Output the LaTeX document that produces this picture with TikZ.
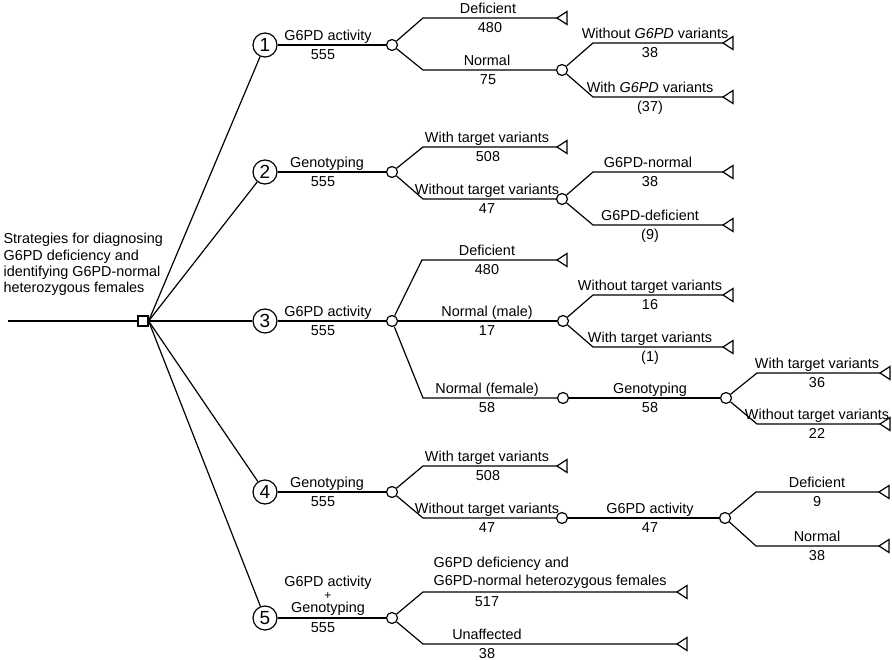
\documentclass[tikz,border=0pt]{standalone}
\usepackage{fontspec}
\setmainfont{Liberation Sans}
\begin{document}
\begin{tikzpicture}[x=1pt,y=-1pt, line width=1.2pt,
  every node/.style={font=\fontsize{14.4}{16.3}\selectfont},
  num/.style={circle, draw, fill=white, minimum size=24pt, inner sep=0pt, font=\fontsize{19}{19}\selectfont},
  chance/.style={circle, draw, fill=white, minimum size=11pt, inner sep=0pt},
  decision/.style={rectangle, draw, fill=white, minimum size=10pt, inner sep=0pt},
  lab/.style={anchor=base, inner sep=0pt},
  labw/.style={anchor=base west, inner sep=0pt},
  leaf/.pic={\draw[fill=white, line width=1.2pt] (0,0) -- (10,-6.5) -- (10,6.5) -- cycle;}
]
\useasboundingbox (0,0) rectangle (892,660);

% root
\coordinate (start) at (8,321);
\node[decision] (S) at (143,321) {};
\draw (start) -- (S);
\node[labw] at (3,244) {Strategies for diagnosing};
\node[labw] at (3,260.3) {G6PD deficiency and};
\node[labw] at (3,276.6) {identifying G6PD-normal};
\node[labw] at (3,292.9) {heterozygous females};

\node[num] (N1) at (265,45) {1};
\node[num] (N2) at (265,172) {2};
\node[num] (N3) at (265,321) {3};
\node[num] (N4) at (265,492) {4};
\node[num] (N5) at (265,618) {5};
\foreach \i in {1,...,5} \draw (S.east) -- (N\i);

% ---------- strategy 1
\node[chance] (A1) at (392,45) {};
\draw (N1) -- (A1);
\node[lab] at (328,40.5) {G6PD activity};
\node[lab] at (323,59.5) {555};
\coordinate (u1) at (423,18); \coordinate (L11) at (557,18);
\draw (A1) -- (u1) -- (L11); \pic at (L11) {leaf};
\node[lab] at (488,13.5) {Deficient};
\node[lab] at (490,32.5) {480};
\coordinate (d1) at (423,70); \node[chance] (B1) at (562,70) {};
\draw (A1) -- (d1) -- (B1);
\node[lab] at (487,65.5) {Normal};
\node[lab] at (488,84.5) {75};
\coordinate (u11) at (593,43); \coordinate (L12) at (723,43);
\draw (B1) -- (u11) -- (L12); \pic at (L12) {leaf};
\node[lab] at (655,38.5) {Without \textit{G6PD} variants};
\node[lab] at (650,57.5) {38};
\coordinate (d11) at (593,97); \coordinate (L13) at (723,97);
\draw (B1) -- (d11) -- (L13); \pic at (L13) {leaf};
\node[lab] at (650,92.5) {With \textit{G6PD} variants};
\node[lab] at (650,111.5) {(37)};

% ---------- strategy 2
\node[chance] (A2) at (392,172) {};
\draw (N2) -- (A2);
\node[lab] at (327,167.5) {Genotyping};
\node[lab] at (323,186.5) {555};
\coordinate (u2) at (423,147); \coordinate (L21) at (557,147);
\draw (A2) -- (u2) -- (L21); \pic at (L21) {leaf};
\node[lab] at (487,142.5) {With target variants};
\node[lab] at (488,161.5) {508};
\coordinate (d2) at (423,199); \node[chance] (B2) at (562,199) {};
\draw (A2) -- (d2) -- (B2);
\node[lab] at (487,194.5) {Without target variants};
\node[lab] at (487,213.5) {47};
\coordinate (u21) at (593,172); \coordinate (L22) at (723,172);
\draw (B2) -- (u21) -- (L22); \pic at (L22) {leaf};
\node[lab] at (648,167.5) {G6PD-normal};
\node[lab] at (650,186.5) {38};
\coordinate (d21) at (593,225); \coordinate (L23) at (723,225);
\draw (B2) -- (d21) -- (L23); \pic at (L23) {leaf};
\node[lab] at (650,220.5) {G6PD-deficient};
\node[lab] at (650,239.5) {(9)};

% ---------- strategy 3
\node[chance] (A3) at (392,321) {};
\draw (N3) -- (A3);
\node[lab] at (328,316.5) {G6PD activity};
\node[lab] at (323,335.5) {555};
\coordinate (u3) at (422,260); \coordinate (L31) at (557,260);
\draw (A3) -- (u3) -- (L31); \pic at (L31) {leaf};
\node[lab] at (487,255.5) {Deficient};
\node[lab] at (487,274.5) {480};
\node[chance] (B3) at (563,321) {};
\draw (A3) -- (B3);
\node[lab] at (487,316.5) {Normal (male)};
\node[lab] at (487,335.5) {17};
\coordinate (d3) at (423,398); \node[chance] (C3) at (563,398) {};
\draw (A3) -- (d3) -- (C3);
\node[lab] at (487,393.5) {Normal (female)};
\node[lab] at (487,412.5) {58};
\coordinate (u31) at (593,295); \coordinate (L32) at (723,295);
\draw (B3) -- (u31) -- (L32); \pic at (L32) {leaf};
\node[lab] at (650,290.5) {Without target variants};
\node[lab] at (650,309.5) {16};
\coordinate (d31) at (593,347); \coordinate (L33) at (723,347);
\draw (B3) -- (d31) -- (L33); \pic at (L33) {leaf};
\node[lab] at (650,342.5) {With target variants};
\node[lab] at (650,361.5) {(1)};
\node[chance] (D3) at (726,398) {};
\draw (C3) -- (D3);
\node[lab] at (650,393.5) {Genotyping};
\node[lab] at (650,412.5) {58};
\coordinate (u32) at (757,373); \coordinate (L34) at (880,373);
\draw (D3) -- (u32) -- (L34); \pic at (L34) {leaf};
\node[lab] at (817,368.5) {With target variants};
\node[lab] at (817,387.5) {36};
\coordinate (d32) at (757,424); \coordinate (L35) at (880,424);
\draw (D3) -- (d32) -- (L35); \pic at (L35) {leaf};
\node[lab] at (817,419.5) {Without target variants};
\node[lab] at (817,438.5) {22};

% ---------- strategy 4
\node[chance] (A4) at (392,492) {};
\draw (N4) -- (A4);
\node[lab] at (327,487.5) {Genotyping};
\node[lab] at (323,506.5) {555};
\coordinate (u4) at (423,466); \coordinate (L41) at (557,466);
\draw (A4) -- (u4) -- (L41); \pic at (L41) {leaf};
\node[lab] at (487,461.5) {With target variants};
\node[lab] at (488,480.5) {508};
\coordinate (d4) at (423,518); \node[chance] (B4) at (562,518) {};
\draw (A4) -- (d4) -- (B4);
\node[lab] at (487,513.5) {Without target variants};
\node[lab] at (487,532.5) {47};
\node[chance] (C4) at (725,518) {};
\draw (B4) -- (C4);
\node[lab] at (650,513.5) {G6PD activity};
\node[lab] at (650,532.5) {47};
\coordinate (u41) at (756,492); \coordinate (L42) at (879,492);
\draw (C4) -- (u41) -- (L42); \pic at (L42) {leaf};
\node[lab] at (817,487.5) {Deficient};
\node[lab] at (817,506.5) {9};
\coordinate (d41) at (756,546); \coordinate (L43) at (879,546);
\draw (C4) -- (d41) -- (L43); \pic at (L43) {leaf};
\node[lab] at (817,541.5) {Normal};
\node[lab] at (817,560.5) {38};

% ---------- strategy 5
\node[chance] (A5) at (392,618) {};
\draw (N5) -- (A5);
\node[lab] at (328,586.5) {G6PD activity};
\node[lab, font=\fontsize{12}{12}\selectfont] at (328,599) {+};
\node[lab] at (328,612.5) {Genotyping};
\node[lab] at (323,632) {555};
\coordinate (u5) at (423,592); \coordinate (L51) at (677,592);
\draw (A5) -- (u5) -- (L51); \pic at (L51) {leaf};
\node[labw] at (433,567) {G6PD deficiency and};
\node[labw] at (433,585) {G6PD-normal heterozygous females};
\node[lab] at (487,606) {517};
\coordinate (d5) at (423,644); \coordinate (L52) at (677,644);
\draw (A5) -- (d5) -- (L52); \pic at (L52) {leaf};
\node[lab] at (487,639) {Unaffected};
\node[lab] at (487,658) {38};
\end{tikzpicture}
\end{document}
